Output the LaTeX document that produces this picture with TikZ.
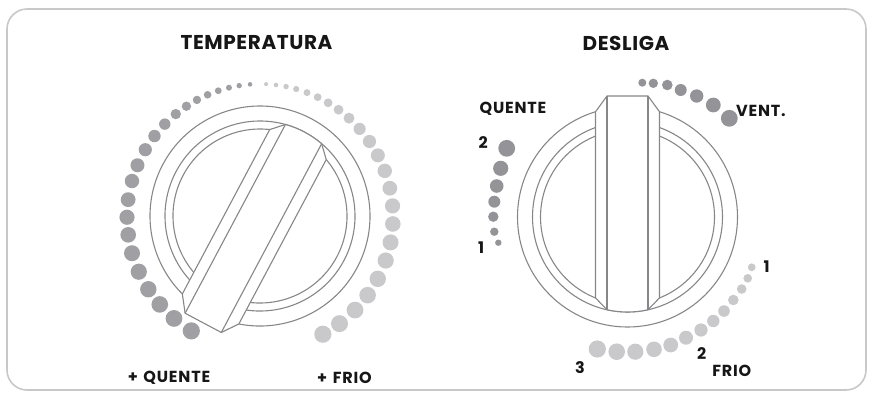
\documentclass[tikz,border=0pt]{standalone}
\usepackage{fontspec}
\setmainfont{Poppins}
\newfontfamily\titlefont[LetterSpace=3]{Poppins}
\newfontfamily\labfont[LetterSpace=5]{Poppins}
\definecolor{knobline}{RGB}{135,135,138}
\definecolor{darkdot}{RGB}{160,160,164}
\definecolor{darkdotb}{RGB}{148,148,152}
\definecolor{lightdot}{RGB}{201,201,203}
\definecolor{framecol}{RGB}{200,200,200}
\definecolor{txt}{RGB}{22,22,22}
\newcommand{\knobdraw}{%
  \draw[knob] (0,0) circle[radius=110pt];
  \draw[knob] (0,0) circle[radius=95pt];
  \draw[knob] (0,0) circle[radius=87pt];
  \draw[knob,fill=white] (-20.5,121) -- (20.5,121) -- (32,105.24) -- (32,-80.9) -- (20.5,-92.76)
     arc[start angle=-77.54,end angle=-102.46,radius=95pt] -- (-32,-80.9) -- (-32,105.24) -- cycle;
  \draw[knob] (-20.5,121) -- (-20.5,-92.76) (20.5,121) -- (20.5,-92.76);
}
\begin{document}
\begin{tikzpicture}[x=1pt,y=-1pt,
  knob/.style={draw=knobline,line width=1.1pt,line join=miter},
  title/.style={text=txt,font=\titlefont\fontsize{20}{20}\selectfont\bfseries,inner sep=0pt,anchor=center},
  lab/.style={text=txt,font=\labfont\fontsize{16}{16}\selectfont\bfseries,inner sep=0pt,anchor=center}]
\useasboundingbox (0,0) rectangle (874,392);
\draw[framecol,line width=1.6pt,rounded corners=20pt] (7,9) rectangle (866,390);

% left knob dots
\foreach \a/\r in {94.3/2.3,99.0/2.7,103.5/3.0,108.3/3.4,113.2/3.8,118.3/4.2,123.6/4.7,129.3/5.2,135.7/5.7,142.5/6.2,149.6/6.6,157.1/7.0,164.3/7.2,172.5/7.4,180.1/7.6,187.7/7.8,195.8/8.0,204.3/8.1,212.9/8.2,221.1/8.3,229.7/8.4,238.9/8.6}
  \fill[darkdot] (260,217) ++(-\a:133) circle[radius=\r pt];
\foreach \a/\r in {87.4/2.0,83.1/2.3,78.7/2.7,74.2/3.1,69.3/3.5,64.3/3.9,59.2/4.4,53.8/4.9,48.0/5.5,41.5/6.1,34.6/6.6,27.6/7.0,20.3/7.2,12.5/7.4,4.8/7.6,-3.0/7.8,-11.0/8.0,-19.1/8.1,-27.7/8.2,-36.0/8.3,-44.4/8.4,-53.3/8.5,-61.8/8.6}
  \fill[lightdot] (260,217) ++(-\a:133) circle[radius=\r pt];

% left knob
\begin{scope}[shift={(260,216)},y=1pt,rotate=152]
  \knobdraw
\end{scope}

% right knob dots
\foreach \x/\y/\r in {498.3/242.7/3.2,494.3/231.7/4.2,493.3/216.7/5.2,494.3/201.7/6.0,496.7/186/6.8,500.7/168.3/7.6,506.7/148.3/8.4}
  \fill[darkdotb] (\x,\y) circle[radius=\r pt];
\foreach \x/\y/\r in {642.3/82.7/4.0,653.3/83.3/4.7,667.3/85/5.3,680.7/90/6.0,696.7/96/6.7,713.3/105/7.4,729.3/118.3/8.4}
  \fill[darkdotb] (\x,\y) circle[radius=\r pt];
\foreach \x/\y/\r in {751.7/267.3/3.9,747.7/278.3/4.3,741.7/289/4.8,733.3/300/5.3,724/311/5.8,713.3/321/6.2,701/330/6.6,686/337.7/7.0,670.7/345/7.4,654/349.3/7.8,635.3/351.7/8.1,616.7/351.7/8.3,597.3/349/8.6}
  \fill[lightdot] (\x,\y) circle[radius=\r pt];

% right knob
\begin{scope}[shift={(627.5,217)},y=1pt]
  \knobdraw
\end{scope}

% texts
\node[title] (ttemp) at (256.5,43) {TEMPERATURA};
\node[title] (tdesl) at (626,43) {DESLIGA};
\node[lab] (lqpl) at (169,378) {+\hspace{0.35em}QUENTE};
\node[lab] (lfpl) at (344.5,378) {+\hspace{0.35em}FRIO};
\node[lab] (lquente) at (513,108.5) {QUENTE};
\node[lab] (lq2) at (483.3,142.7) {2};
\node[lab] (lq1) at (481,247.7) {1};
\node[lab,anchor=west] (lvent) at (736,111) {VENT.};
\node[lab] (lf1) at (766.7,266.7) {1};
\node[lab] (lf2) at (701.7,353.3) {2};
\node[lab] (lfrio) at (731.7,370.7) {FRIO};
\node[lab] (lf3) at (580,367.3) {3};
\end{tikzpicture}
\end{document}
